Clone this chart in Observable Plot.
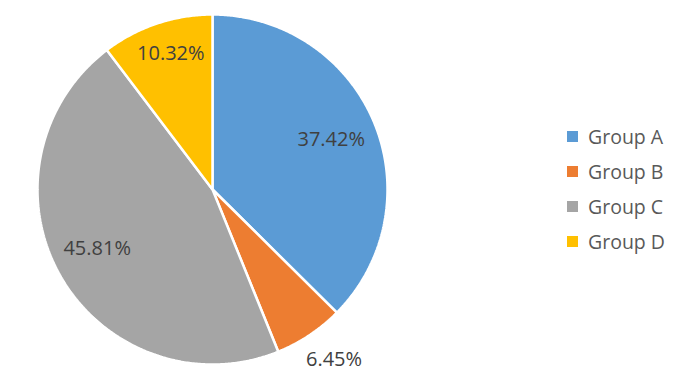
<!DOCTYPE html>
<html>
<head>
<meta charset="utf-8">
<script src="https://cdn.jsdelivr.net/npm/d3@7"></script>
<script src="https://cdn.jsdelivr.net/npm/@observablehq/plot@0.6"></script>
<style>
  html, body { margin: 0; padding: 0; background: #fff; }
  #wrap { position: relative; width: 682px; height: 384px; overflow: hidden; }
  #legend { position: absolute; left: 567px; top: 119px; font-family: "Open Sans", sans-serif; font-size: 19.5px; color: #595959; }
  .item { display: flex; align-items: center; height: 35px; }
  .sw { width: 11px; height: 11px; margin-right: 10px; }
</style>
</head>
<body>
<div id="wrap"></div>
<script>
const groups = ["Group A", "Group B", "Group C", "Group D"];
const shares = [37.42, 6.45, 45.81, 10.32];
const labels = ["37.42%", "6.45%", "45.81%", "10.32%"];
const colors = ["#5B9BD5", "#ED7D31", "#A5A5A5", "#FFC000"];

const rows = groups.map((g, i) => ({group: g, value: shares[i], label: labels[i]}));
const arcs = d3.pie().sort(null).value(d => d.value)(rows);

// polygon outline of each slice, computed from the pie angles
const pts = [];
for (const a of arcs) {
  const g = a.data.group;
  pts.push({group: g, x: 0, y: 0});
  const n = Math.max(2, Math.ceil((a.endAngle - a.startAngle) / (Math.PI / 360)));
  for (let k = 0; k <= n; k++) {
    const t = a.startAngle + (a.endAngle - a.startAngle) * k / n;
    pts.push({group: g, x: Math.sin(t), y: Math.cos(t)});
  }
}

// label radius (fraction of pie radius) per slice: Excel "best fit"
const labelR = {"Group A": 0.735, "Group B": 1.17, "Group C": 0.745, "Group D": 0.82};
const labelDx = {"Group A": 0, "Group B": 8, "Group C": -2, "Group D": 4};
const labelDy = {"Group A": 0, "Group B": 0, "Group C": -5, "Group D": 0};
const labs = arcs.map(a => {
  const m = (a.startAngle + a.endAngle) / 2;
  const r = labelR[a.data.group];
  return {label: a.data.label, x: r * Math.sin(m), y: r * Math.cos(m), dx: labelDx[a.data.group], dy: labelDy[a.data.group]};
});

const chart = Plot.plot({
  width: 682,
  height: 384,
  margin: 0,
  x: {domain: [-1, 1], range: [37, 387], axis: null},
  y: {domain: [-1, 1], range: [364, 14], axis: null},
  color: {domain: groups, range: colors},
  style: {background: "#fff"},
  marks: [
    Plot.line(pts, {x: "x", y: "y", z: "group", fill: "group", stroke: "white", strokeWidth: 2.5, strokeLinejoin: "miter", curve: "linear-closed"}),
    ...labs.map(l => Plot.text([l], {x: "x", y: "y", text: "label", dx: l.dx, dy: l.dy, fill: "#404040", fontSize: 20, fontFamily: "Open Sans, sans-serif"}))
  ]
});
const wrap = document.getElementById("wrap");
wrap.appendChild(chart);

const legend = document.createElement("div");
legend.id = "legend";
groups.forEach((g, i) => {
  const it = document.createElement("div");
  it.className = "item";
  const sw = document.createElement("div");
  sw.className = "sw";
  sw.style.background = colors[i];
  const tx = document.createElement("span");
  tx.textContent = g;
  it.appendChild(sw);
  it.appendChild(tx);
  legend.appendChild(it);
});
wrap.appendChild(legend);
</script>
</body>
</html>
